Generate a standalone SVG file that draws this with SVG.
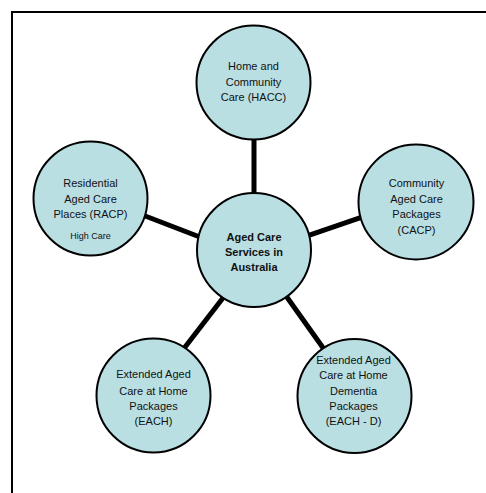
<svg xmlns="http://www.w3.org/2000/svg" width="486" height="493" viewBox="0 0 486 493">
<style>
.node{fill:#b9dfe3;stroke:#000;stroke-width:2}
.conn{stroke:#000;stroke-width:5;fill:none}
text{font-family:"Liberation Sans",Arial,sans-serif;font-size:11px;fill:#111;text-anchor:middle}
.b{font-weight:bold}
.s{font-size:9px}
</style>
<rect x="12" y="12" width="500" height="500" fill="#fff" stroke="#000" stroke-width="2"/>
<g id="connectors">
<line class="conn" x1="254" y1="135" x2="254" y2="200"/>
<line class="conn" x1="140" y1="214" x2="205" y2="239"/>
<line class="conn" x1="300" y1="238.4" x2="370" y2="214.4"/>
<line class="conn" x1="226" y1="294" x2="182" y2="351"/>
<line class="conn" x1="284" y1="293" x2="326" y2="352"/>
</g>
<g id="hacc">
<circle class="node" cx="253.5" cy="82.5" r="57"/>
<text x="253.5" y="70">Home and</text>
<text x="253.5" y="85.5">Community</text>
<text x="253.5" y="101">Care (HACC)</text>
</g>
<g id="center">
<circle class="node" cx="254" cy="250" r="57"/>
<text class="b" x="254" y="241">Aged Care</text>
<text class="b" x="254" y="256">Services in</text>
<text class="b" x="254" y="271">Australia</text>
</g>
<g id="racp">
<circle class="node" cx="90.5" cy="198.5" r="57"/>
<text x="90.5" y="187">Residential</text>
<text x="90.5" y="203">Aged Care</text>
<text x="90.5" y="218">Places (RACP)</text>
<text class="s" x="90.5" y="238.5">High Care</text>
</g>
<g id="cacp">
<circle class="node" cx="416" cy="202" r="57.5"/>
<text x="416.5" y="187">Community</text>
<text x="416.5" y="203">Aged Care</text>
<text x="416.5" y="218">Packages</text>
<text x="416.5" y="234">(CACP)</text>
</g>
<g id="each">
<circle class="node" cx="153.5" cy="395.5" r="57"/>
<text x="153.5" y="378">Extended Aged</text>
<text x="153.5" y="394.5">Care at Home</text>
<text x="153.5" y="410">Packages</text>
<text x="153.5" y="425">(EACH)</text>
</g>
<g id="eachd">
<circle class="node" cx="354.5" cy="396" r="57"/>
<text x="353.5" y="364">Extended Aged</text>
<text x="353.5" y="378.5">Care at Home</text>
<text x="353.5" y="394.5">Dementia</text>
<text x="353.5" y="410">Packages</text>
<text x="353.5" y="425">(EACH - D)</text>
</g>
</svg>
